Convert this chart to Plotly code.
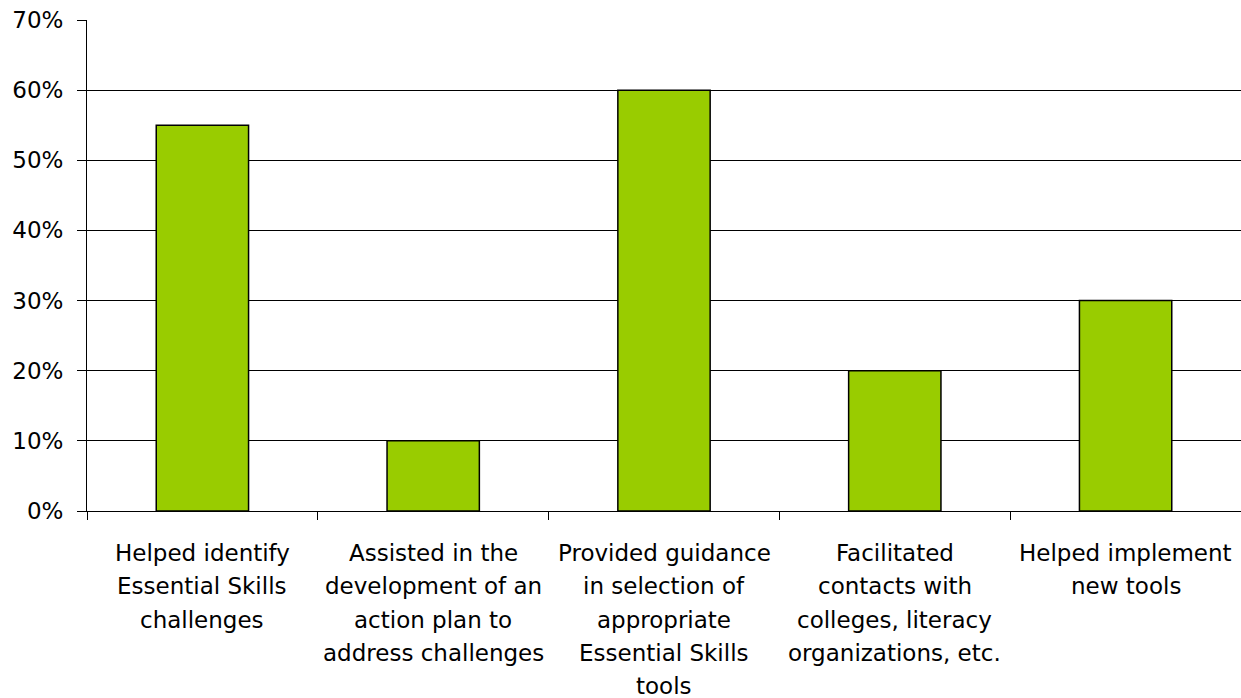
import plotly.graph_objects as go

# Survey responses: share of respondents per type of help received
categories = [
    "Helped identify<br>Essential Skills<br>challenges",
    "Assisted in the<br>development of an<br>action plan to<br>address challenges",
    "Provided guidance<br>in selection of<br>appropriate<br>Essential Skills<br>tools",
    "Facilitated<br>contacts with<br>colleges, literacy<br>organizations, etc.",
    "Helped implement<br>new tools",
]
shares = [0.55, 0.10, 0.60, 0.20, 0.30]
y_ticks = [0.0, 0.1, 0.2, 0.3, 0.4, 0.5, 0.6, 0.7]
y_tick_labels = ["0%", "10%", "20%", "30%", "40%", "50%", "60%", "70%"]

FONT = "DejaVu Sans"
FONT_SIZE = 23
LINE_STEP = 33.3

fig = go.Figure(
    go.Bar(
        x=list(range(len(categories))),
        y=shares,
        width=0.4,
        marker=dict(color="#99CC00", line=dict(color="#000000", width=1.5)),
        hoverinfo="skip",
    )
)

# Multi-line category labels, one annotation per line for custom spacing
annotations = []
for i, label in enumerate(categories):
    for j, line in enumerate(label.split("<br>")):
        annotations.append(
            dict(
                x=i, xref="x", y=0, yref="paper",
                text=line, showarrow=False,
                xanchor="center", yanchor="middle",
                yshift=-42 - j * LINE_STEP,
                font=dict(family=FONT, size=FONT_SIZE, color="#000000"),
            )
        )

fig.update_layout(
    width=1241,
    height=698,
    margin=dict(l=87, r=0, t=20, b=187),
    paper_bgcolor="white",
    plot_bgcolor="white",
    showlegend=False,
    font=dict(family=FONT, size=FONT_SIZE, color="#000000"),
    annotations=annotations,
    xaxis=dict(
        type="linear",
        range=[-0.5, len(categories) - 0.5],
        tickvals=[k - 0.5 for k in range(len(categories) + 1)],
        showticklabels=False,
        ticks="outside",
        ticklen=8,
        tickcolor="#000000",
        showgrid=False,
        zeroline=False,
        showline=True,
        linecolor="#000000",
        linewidth=1,
    ),
    yaxis=dict(
        range=[0, 0.70001],
        tickvals=y_ticks,
        ticktext=y_tick_labels,
        ticks="outside",
        ticklen=9,
        tickcolor="#000000",
        ticklabelstandoff=9,
        showgrid=True,
        gridcolor="#000000",
        gridwidth=1,
        zeroline=False,
        showline=True,
        linecolor="#000000",
        linewidth=1,
        tickfont=dict(family=FONT, size=FONT_SIZE, color="#000000"),
    ),
)

fig.write_html("out.html")
